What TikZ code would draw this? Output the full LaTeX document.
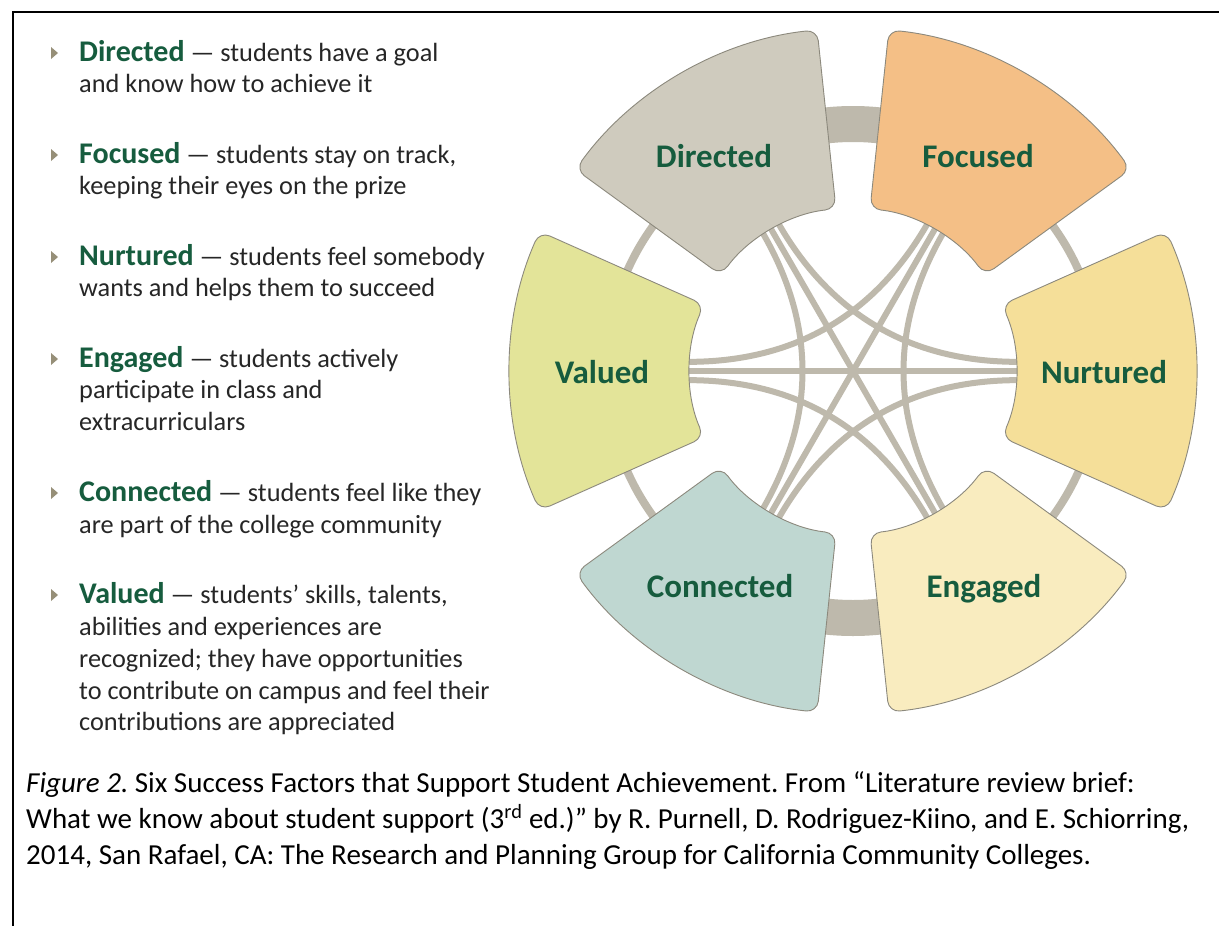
\documentclass[tikz,border=0pt]{standalone}
\usepackage{fontspec}
\setmainfont{Carlito}
\frenchspacing
\definecolor{bodytext}{HTML}{262626}
\definecolor{leafgreen}{HTML}{165C3E}
\definecolor{bulletc}{HTML}{968F78}
\definecolor{bandc}{HTML}{BEB9AC}
\definecolor{edgec}{HTML}{8C897D}
\definecolor{cDir}{HTML}{CFCBBE}
\definecolor{cFoc}{HTML}{F4BF86}
\definecolor{cNur}{HTML}{F5DF99}
\definecolor{cEng}{HTML}{F9ECBF}
\definecolor{cCon}{HTML}{BFD7D1}
\definecolor{cVal}{HTML}{E3E499}
\newcommand\keyw[1]{{\fontsize{30}{36}\selectfont\bfseries\color{leafgreen}#1}}
\begin{document}
\begin{tikzpicture}[x=1pt,y=-1pt,
  body/.style={anchor=base west, inner sep=0pt, font=\fontsize{26.3}{31}\selectfont, text=bodytext},
  captxt/.style={anchor=base west, inner sep=0pt, font=\fontsize{29}{35}\selectfont, text=black},
  lbl/.style={anchor=base, inner sep=0pt, font=\fontsize{33}{40}\selectfont\bfseries, text=leafgreen},
  bullet/.style={fill=bulletc},
  band/.style={draw=bandc},
  link/.style={draw=bandc, line width=6pt},
  sector/.style={draw=edgec, line width=0.9pt, rounded corners=11pt},
]
\useasboundingbox (0,0) rectangle (1219,926);
\fill[white] (0,0) rectangle (1219,926);
% frame
\draw[line width=2pt] (13,926) -- (13,12) -- (1219,12);

% bullets
\foreach \b in {61,163,265,367,501,603}
  \fill[bullet] (51,\b-14) -- (58,\b-8) -- (51,\b-2) -- cycle;

% list text
\node[body] (d1) at (79,61) {\keyw{Directed} — students have a goal};
\node[body] (d2) at (79,92) {and know how to achieve it};
\node[body] (f1) at (79,163) {\keyw{Focused} — students stay on track,};
\node[body] (f2) at (79,194) {keeping their eyes on the prize};
\node[body] (n1) at (79,265) {\keyw{Nurtured} — students feel somebody};
\node[body] (n2) at (79,296) {wants and helps them to succeed};
\node[body] (e1) at (79,367) {\keyw{Engaged} — students actively};
\node[body] (e2) at (79,398.5) {participate in class and};
\node[body] (e3) at (79,430) {extracurriculars};
\node[body] (c1) at (79,501) {\keyw{Connected} — students feel like they};
\node[body] (c2) at (79,533) {are part of the college community};
\node[body] (v1) at (79,603) {\keyw{Valued} — students’ skills, talents,};
\node[body] (v2) at (79,635) {abilities and experiences are};
\node[body] (v3) at (79,667) {recognized; they have opportunities};
\node[body] (v4) at (79,699) {to contribute on campus and feel their};
\node[body] (v5) at (79,730) {contributions are appreciated};

% diagram
\begin{scope}[shift={(853,371)}]
  % ring bands
  \draw[band, line width=36pt] (78:247pt) arc[start angle=78, end angle=102, radius=247pt];
  \draw[band, line width=36pt] (258:247pt) arc[start angle=258, end angle=282, radius=247pt];
  \foreach \m in {30,150,210,330}
    \draw[band, line width=8pt] (\m-12:247pt) arc[start angle=\m-12, end angle=\m+12, radius=247pt];
  % curved links
  \foreach \a [evaluate=\a as \p using \a+3, evaluate=\a as \q using \a+117] in {0,60,120,180,240,300}
    \draw[link] (\p:185pt) .. controls (\p:62pt) and (\q:62pt) .. (\q:185pt);
  % straight links
  \foreach \a [evaluate=\a as \o using \a+180] in {0,60,120}
    \draw[link] (\a:185pt) -- (\o:185pt);
  % sectors
  \foreach \c/\col in {120/cDir,60/cFoc,0/cNur,300/cEng,240/cCon,180/cVal}{
    \pgfmathsetmacro\s{\c-24}
    \pgfmathsetmacro\e{\c+24}
    \filldraw[sector, fill=\col] (\s:343pt) arc[start angle=\s, end angle=\e, radius=343pt]
      -- (\e:163pt) arc[start angle=\e, end angle=\s, radius=163pt] -- cycle;
  }
\end{scope}

% sector labels
\node[lbl] (ldir) at (714,167) {Directed};
\node[lbl] (lfoc) at (978,167) {Focused};
\node[lbl] (lval) at (602,383) {Valued};
\node[lbl] (lnur) at (1104,383) {Nurtured};
\node[lbl] (lcon) at (720,597) {Connected};
\node[lbl] (leng) at (984,597) {Engaged};

% caption
\node[captxt] (cap1) at (26,792) {\textit{Figure 2.} Six Success Factors that Support Student Achievement. From “Literature review brief:};
\node[captxt] (cap2) at (26,828) {What we know about student support (3\textsuperscript{rd} ed.)” by R. Purnell, D. Rodriguez-Kiino, and E. Schiorring,};
\node[captxt] (cap3) at (26,864) {2014, San Rafael, CA: The Research and Planning Group for California Community Colleges.};
\end{tikzpicture}
\end{document}
